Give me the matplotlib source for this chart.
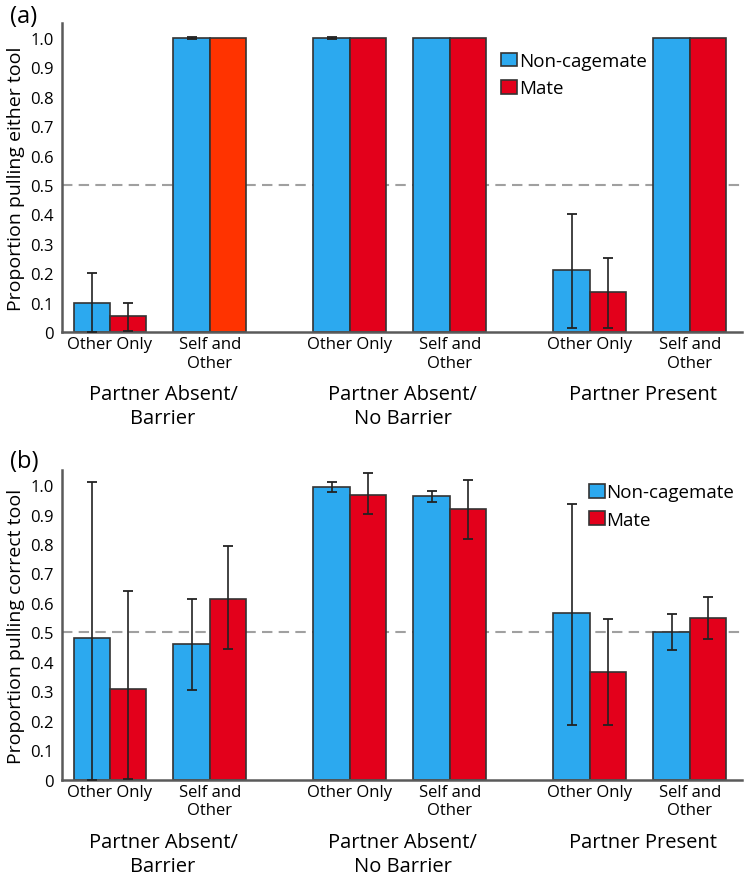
import matplotlib
matplotlib.use("Agg")
import matplotlib.pyplot as plt
import matplotlib.transforms as mtransforms
from matplotlib.patches import Patch
import numpy as np

plt.rcParams['font.family'] = ['Open Sans', 'DejaVu Sans']

sub_labels = ["Other Only", "Self and\nOther", "Other Only", "Self and\nOther", "Other Only", "Self and\nOther"]
group_labels = ["Partner Absent/\nBarrier", "Partner Absent/\nNo Barrier", "Partner Present"]
series_names = ["Non-cagemate", "Mate"]

# Panel (a): proportion pulling either tool
a_noncage = [0.10, 1.00, 1.00, 1.00, 0.21, 1.00]
a_noncage_lo = [0.00, 0.997, 0.997, 1.00, 0.013, 1.00]
a_noncage_hi = [0.20, 1.003, 1.003, 1.00, 0.40, 1.00]
a_mate = [0.053, 1.00, 1.00, 1.00, 0.135, 1.00]
a_mate_lo = [0.004, 1.00, 1.00, 1.00, 0.015, 1.00]
a_mate_hi = [0.10, 1.00, 1.00, 1.00, 0.25, 1.00]
a_noncage_err_show = [True, True, True, False, True, False]
a_mate_err_show = [True, False, False, False, True, False]

# Panel (b): proportion pulling correct tool
b_noncage = [0.48, 0.46, 0.992, 0.962, 0.565, 0.502]
b_noncage_lo = [0.00, 0.305, 0.977, 0.943, 0.187, 0.44]
b_noncage_hi = [1.011, 0.613, 1.011, 0.98, 0.937, 0.563]
b_mate = [0.309, 0.615, 0.967, 0.918, 0.365, 0.55]
b_mate_lo = [0.003, 0.445, 0.903, 0.818, 0.186, 0.477]
b_mate_hi = [0.64, 0.794, 1.04, 1.016, 0.545, 0.621]

BLUE = "#2CA9EF"
RED = "#E3001B"
ORANGE = "#FF3300"
EDGE = "#333333"
SPINE = "#5A5A5A"

x = np.array([0.0, 1.0, 2.4, 3.4, 4.8, 5.8])
group_x = [(x[0] + x[1]) / 2, (x[2] + x[3]) / 2, (x[4] + x[5]) / 2]
w = 0.365

fig = plt.figure(figsize=(7.5, 8.79), dpi=100)
ax_a = fig.add_axes([0.0827, 0.6212, 0.9063, 0.3512])
ax_b = fig.add_axes([0.0827, 0.1118, 0.9063, 0.3520])


def draw(ax, nc, nc_lo, nc_hi, m, m_lo, m_hi, ylabel, nc_show, m_show, mate_colors, legend_anchor):
    ax.bar(x - w / 2, nc, w, color=BLUE, edgecolor=EDGE, linewidth=1.2, zorder=2)
    ax.bar(x + w / 2, m, w, color=mate_colors, edgecolor=EDGE, linewidth=1.2, zorder=2)
    for i in range(len(x)):
        if nc_show[i]:
            ax.errorbar(x[i] - w / 2, nc[i],
                        yerr=[[nc[i] - nc_lo[i]], [nc_hi[i] - nc[i]]],
                        fmt='none', ecolor="#222222", elinewidth=1.2, capsize=3.3, capthick=1.3, zorder=3)
        if m_show[i]:
            ax.errorbar(x[i] + w / 2, m[i],
                        yerr=[[m[i] - m_lo[i]], [m_hi[i] - m[i]]],
                        fmt='none', ecolor="#222222", elinewidth=1.2, capsize=3.3, capthick=1.3, zorder=3)
    ax.axhline(0.5, color="#A0A0A0", linestyle=(0, (5, 3)), linewidth=1.5, zorder=1)
    ax.set_xlim(-0.48, 6.32)
    ax.set_ylim(0, 1.05)
    ax.set_yticks(np.arange(0, 1.01, 0.1))
    ax.set_yticklabels(["0"] + ["%.1f" % v for v in np.arange(0.1, 1.01, 0.1)], fontsize=12)
    ax.set_xticks(x)
    ax.set_xticklabels(sub_labels, fontsize=12, linespacing=1.2)
    ax.tick_params(axis='both', length=0, pad=3)
    ax.tick_params(axis='y', pad=6)
    for s in ['top', 'right']:
        ax.spines[s].set_visible(False)
    for s in ['left', 'bottom']:
        ax.spines[s].set_color(SPINE)
        ax.spines[s].set_linewidth(1.8)
    ax.set_ylabel(ylabel, fontsize=14, labelpad=4)
    trans = mtransforms.blended_transform_factory(ax.transData, ax.transAxes)
    for gx, gl in zip(group_x, group_labels):
        ax.text(gx + 0.03, -0.168, gl, transform=trans, ha='center', va='top', fontsize=14.5, linespacing=1.3)
    handles = [Patch(facecolor=BLUE, edgecolor=EDGE, linewidth=1.2),
               Patch(facecolor=RED, edgecolor=EDGE, linewidth=1.2)]
    ax.legend(handles, series_names, loc='upper left', bbox_to_anchor=legend_anchor,
              frameon=False, fontsize=13.5, handlelength=0.85, handleheight=0.75,
              handletextpad=0.1, labelspacing=0.5, borderpad=0, borderaxespad=0)


draw(ax_a, a_noncage, a_noncage_lo, a_noncage_hi, a_mate, a_mate_lo, a_mate_hi,
     "Proportion pulling either tool", a_noncage_err_show, a_mate_err_show,
     [RED, ORANGE, RED, RED, RED, RED], (0.646, 0.907))
draw(ax_b, b_noncage, b_noncage_lo, b_noncage_hi, b_mate, b_mate_lo, b_mate_hi,
     "Proportion pulling correct tool", [True] * 6, [True] * 6,
     [RED] * 6, (0.775, 0.958))

fig.text(10 / 750, 1 - 17 / 879, "(a)", ha='left', va='center', fontsize=17)
fig.text(10 / 750, 1 - 462 / 879, "(b)", ha='left', va='center', fontsize=17)

fig.savefig("out.png", dpi=100)
